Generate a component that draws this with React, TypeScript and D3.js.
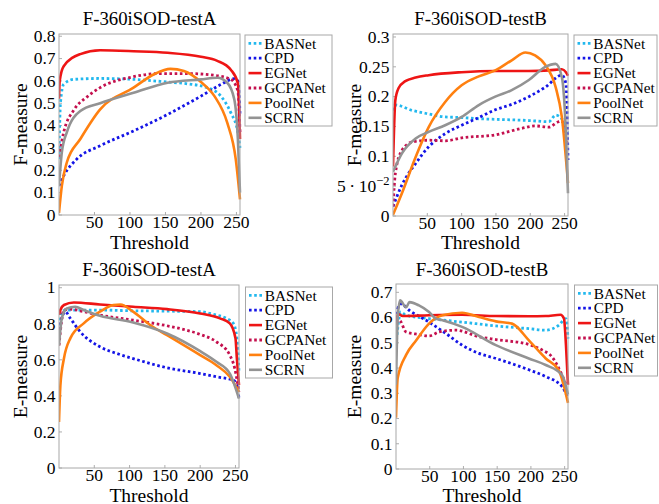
import React from "react";
import * as d3 from "d3";

type Pt = [number, number];

const methods = ["BASNet", "CPD", "EGNet", "GCPANet", "PoolNet", "SCRN"];
const colors = ["#22B8EE", "#1414E6", "#EE1515", "#C4104E", "#FF8010", "#939393"];
const dotted = [true, true, false, true, false, false];
const xTicks = [50, 100, 150, 200, 250];

// Top-left: F-measure testA
const fA_BASNet: Pt[] = [[0,0.25],[2,0.5],[6.6,0.585],[21,0.607],[58,0.611],[105,0.607],[153,0.595],[181,0.587],[209,0.57],[228,0.532],[242,0.458],[252,0.37],[255,0.3]];
const fA_CPD: Pt[] = [[0,0.13],[6.6,0.175],[25,0.25],[58,0.31],[105,0.376],[153,0.45],[200,0.532],[228,0.584],[247,0.61],[252,0.6],[255,0.45]];
const fA_EGNet: Pt[] = [[0,0.52],[1,0.6],[6.6,0.666],[30,0.72],[58,0.737],[105,0.733],[153,0.726],[200,0.708],[223,0.69],[242,0.65],[252,0.59],[255,0.34]];
const fA_GCPANet: Pt[] = [[0,0.26],[6.6,0.37],[21,0.47],[40,0.53],[58,0.57],[105,0.619],[143,0.633],[181,0.633],[219,0.625],[242,0.607],[252,0.555],[255,0.37]];
const fA_PoolNet: Pt[] = [[0,0.01],[4,0.13],[11,0.235],[30,0.34],[58,0.473],[105,0.57],[134,0.63],[157,0.654],[176,0.644],[200,0.595],[219,0.532],[237,0.413],[249,0.25],[255,0.07]];
const fA_SCRN: Pt[] = [[0,0.13],[4,0.28],[11,0.37],[30,0.465],[58,0.5],[105,0.547],[153,0.592],[200,0.607],[223,0.614],[237,0.592],[247,0.517],[252,0.34],[255,0.1]];

// Top-right: F-measure testB
const fB_BASNet: Pt[] = [[0,0.177],[3.4,0.186],[28,0.177],[52,0.171],[76,0.166],[100,0.165],[125,0.163],[149,0.162],[198,0.16],[227,0.158],[237,0.169],[246,0.163],[252,0.144],[255,0.14]];
const fB_CPD: Pt[] = [[0,0.016],[13,0.052],[33,0.088],[52,0.116],[76,0.138],[100,0.152],[125,0.165],[149,0.178],[175,0.188],[198,0.2],[222,0.216],[246,0.236],[252,0.222],[255,0.094]];
const fB_EGNet: Pt[] = [[0,0.083],[3.4,0.194],[8,0.214],[18,0.226],[33,0.232],[52,0.236],[100,0.241],[149,0.243],[198,0.243],[227,0.244],[246,0.246],[252,0.241],[255,0.235]];
const fB_GCPANet: Pt[] = [[0,0.016],[3.4,0.071],[13,0.11],[28,0.124],[52,0.127],[76,0.126],[100,0.131],[149,0.136],[188,0.147],[207,0.151],[227,0.149],[241,0.158],[246,0.16],[252,0.127],[255,0.12]];
const fB_PoolNet: Pt[] = [[0,0.002],[13,0.038],[33,0.099],[52,0.149],[76,0.191],[100,0.219],[125,0.234],[149,0.244],[173,0.261],[193,0.274],[207,0.269],[222,0.253],[237,0.216],[246,0.166],[255,0.055]];
const fB_SCRN: Pt[] = [[0,0.074],[13,0.105],[33,0.13],[52,0.141],[76,0.152],[100,0.166],[125,0.186],[149,0.2],[173,0.211],[198,0.228],[222,0.25],[237,0.255],[246,0.233],[252,0.138],[255,0.038]];

// Bottom-left: E-measure testA
const eA_BASNet: Pt[] = [[0,0.79],[4,0.867],[11,0.876],[58,0.876],[105,0.872],[153,0.87],[200,0.867],[219,0.852],[237,0.83],[247,0.802],[252,0.72],[255,0.533]];
const eA_CPD: Pt[] = [[0,0.737],[4,0.83],[9,0.867],[16,0.83],[30,0.756],[58,0.672],[82,0.635],[105,0.607],[153,0.556],[200,0.524],[223,0.506],[247,0.487],[252,0.459],[255,0.385]];
const eA_EGNet: Pt[] = [[0,0.85],[2,0.876],[7,0.904],[21,0.918],[58,0.907],[105,0.894],[153,0.881],[200,0.857],[228,0.83],[242,0.802],[250,0.72],[252,0.607],[255,0.46]];
const eA_GCPANet: Pt[] = [[0,0.68],[7,0.876],[16,0.881],[35,0.867],[58,0.848],[105,0.82],[153,0.789],[176,0.769],[200,0.741],[223,0.7],[242,0.626],[249,0.552],[255,0.422]];
const eA_PoolNet: Pt[] = [[0,0.255],[2,0.46],[7,0.607],[16,0.719],[35,0.802],[58,0.867],[77,0.904],[87,0.907],[105,0.867],[129,0.793],[153,0.737],[200,0.626],[223,0.57],[242,0.506],[255,0.422]];
const eA_SCRN: Pt[] = [[0,0.68],[4,0.83],[11,0.885],[23,0.894],[35,0.876],[58,0.844],[105,0.807],[153,0.746],[200,0.648],[223,0.589],[242,0.524],[255,0.385]];

// Bottom-right: E-measure testB
const eB_BASNet: Pt[] = [[0,0.49],[2.5,0.556],[7,0.622],[15,0.609],[49,0.596],[98,0.582],[148,0.567],[197,0.556],[222,0.55],[241,0.569],[252,0.596],[255,0.517]];
const eB_CPD: Pt[] = [[0,0.53],[2.5,0.635],[7,0.654],[20,0.628],[49,0.582],[74,0.537],[98,0.491],[123,0.458],[148,0.438],[197,0.393],[222,0.366],[246,0.327],[255,0.281]];
const eB_EGNet: Pt[] = [[0,0.57],[2.5,0.615],[10,0.606],[49,0.609],[98,0.611],[148,0.606],[197,0.605],[222,0.606],[244,0.611],[249,0.596],[252,0.491],[255,0.334]];
const eB_GCPANet: Pt[] = [[0,0.58],[5,0.589],[15,0.543],[34,0.533],[49,0.527],[64,0.543],[89,0.55],[123,0.524],[148,0.513],[197,0.493],[217,0.471],[231,0.445],[246,0.373],[252,0.334]];
const eB_PoolNet: Pt[] = [[0,0.203],[2.5,0.36],[15,0.452],[30,0.51],[49,0.576],[69,0.609],[98,0.619],[123,0.602],[148,0.585],[172,0.576],[197,0.51],[222,0.438],[241,0.393],[255,0.262]];
const eB_SCRN: Pt[] = [[0,0.334],[2.5,0.596],[6,0.668],[15,0.641],[20,0.661],[34,0.648],[49,0.622],[59,0.596],[69,0.589],[98,0.563],[148,0.491],[197,0.438],[222,0.412],[246,0.373],[255,0.295]];

const yTicksFA = [0, 0.1, 0.2, 0.3, 0.4, 0.5, 0.6, 0.7, 0.8];
const yTicksFB = [0, 0.05, 0.1, 0.15, 0.2, 0.25, 0.3];
const yTicksEA = [0, 0.2, 0.4, 0.6, 0.8, 1];
const yTicksEB = [0, 0.1, 0.2, 0.3, 0.4, 0.5, 0.6, 0.7];

const FONT = "'Liberation Serif', 'Times New Roman', serif";

interface PanelProps {
  title: string;
  ylabel: string;
  series: Pt[][];
  yMax: number;
  yTicks: number[];
  box: { l: number; t: number; r: number; b: number };
  titleY: number;
  xlabelY: number;
  ylabelX: number;
  legend: { x: number; y: number; w: number };
}

function tickLabel(v: number) {
  if (v === 0.05) {
    return (
      <>
        5{"\u2009·\u2009"}10<tspan dy="-6.5" fontSize="12.5">−2</tspan>
      </>
    );
  }
  return String(+v.toFixed(2));
}

function Panel(p: PanelProps) {
  const { l, t, r, b } = p.box;
  const x = d3.scaleLinear().domain([0, 255]).range([l, r]);
  const y = d3.scaleLinear().domain([0, p.yMax]).range([b, t]);
  const line = d3
    .line<Pt>()
    .x((d) => x(d[0]))
    .y((d) => y(d[1]))
    .curve(d3.curveMonotoneX);
  const cx = (l + r) / 2;
  const cy = (t + b) / 2;
  const clipId = `clip-${l}-${t}`;
  return (
    <g fontFamily={FONT} fill="#000">
      <defs>
        <clipPath id={clipId}>
          <rect x={l} y={t - 3} width={r - l + 2} height={b - t + 3} />
        </clipPath>
      </defs>
      <text x={cx} y={p.titleY} textAnchor="middle" fontSize="18.8">
        {p.title}
      </text>
      {xTicks.map((v) => (
        <g key={"x" + v}>
          <line x1={x(v)} x2={x(v)} y1={b} y2={b - 3} stroke="#999" strokeWidth={0.8} />
          <text x={x(v)} y={b + 13.3} textAnchor="middle" fontSize="17.5">
            {v}
          </text>
        </g>
      ))}
      {p.yTicks.map((v) => (
        <g key={"y" + v}>
          <line x1={l} x2={l + 3} y1={y(v)} y2={y(v)} stroke="#999" strokeWidth={0.8} />
          <text x={l - 3.5} y={y(v)} dy="0.33em" textAnchor="end" fontSize="17.5">
            {tickLabel(v)}
          </text>
        </g>
      ))}
      <text x={cx} y={p.xlabelY} textAnchor="middle" fontSize="19.5">
        Threshold
      </text>
      <text
        transform={`translate(${p.ylabelX},${cy}) rotate(-90)`}
        textAnchor="middle"
        fontSize="19.5"
      >
        {p.ylabel}
      </text>
      <g clipPath={`url(#${clipId})`}>
        {p.series.map((s, i) => (
          <path
            key={methods[i]}
            d={line(s) || ""}
            fill="none"
            stroke={colors[i]}
            strokeWidth={dotted[i] ? 2.8 : 2.6}
            strokeDasharray={dotted[i] ? "2.6,2.6" : undefined}
            strokeLinejoin="round"
          />
        ))}
      </g>
      <rect x={l} y={t} width={r - l} height={b - t} fill="none" stroke="#a8a8a8" strokeWidth={1} />
      <g>
        <rect
          x={p.legend.x}
          y={p.legend.y}
          width={p.legend.w}
          height={91}
          fill="#fff"
          stroke="#a8a8a8"
          strokeWidth={1}
        />
        {methods.map((m, i) => {
          const ry = p.legend.y + 8.3 + i * 14.9;
          return (
            <g key={m}>
              <line
                x1={p.legend.x + 3.5}
                x2={p.legend.x + 16.5}
                y1={ry}
                y2={ry}
                stroke={colors[i]}
                strokeWidth={dotted[i] ? 2.8 : 2.6}
                strokeDasharray={dotted[i] ? "2.6,2.6" : undefined}
              />
              <text x={p.legend.x + 19.3} y={ry} dy="0.34em" fontSize="15.3">
                {m}
              </text>
            </g>
          );
        })}
      </g>
    </g>
  );
}

export default function App() {
  return (
    <svg
      width={659}
      height={504}
      style={{ position: "absolute", left: 0, top: 0, background: "#fff" }}
    >
      <rect width={659} height={504} fill="#fff" />
      <Panel
        title="F-360iSOD-testA"
        ylabel="F-measure"
        series={[fA_BASNet, fA_CPD, fA_EGNet, fA_GCPANet, fA_PoolNet, fA_SCRN]}
        yMax={0.81}
        yTicks={yTicksFA}
        box={{ l: 59, t: 34, r: 240, b: 215 }}
        titleY={24.5}
        xlabelY={249}
        ylabelX={26.5}
        legend={{ x: 245, y: 35, w: 87 }}
      />
      <Panel
        title="F-360iSOD-testB"
        ylabel="F-measure"
        series={[fB_BASNet, fB_CPD, fB_EGNet, fB_GCPANet, fB_PoolNet, fB_SCRN]}
        yMax={0.305}
        yTicks={yTicksFB}
        box={{ l: 393, t: 34, r: 568, b: 216 }}
        titleY={24.5}
        xlabelY={249}
        ylabelX={360.5}
        legend={{ x: 574, y: 35, w: 83 }}
      />
      <Panel
        title="F-360iSOD-testA"
        ylabel="E-measure"
        series={[eA_BASNet, eA_CPD, eA_EGNet, eA_GCPANet, eA_PoolNet, eA_SCRN]}
        yMax={1.015}
        yTicks={yTicksEA}
        box={{ l: 59, t: 285, r: 239, b: 468 }}
        titleY={276}
        xlabelY={501.5}
        ylabelX={26.5}
        legend={{ x: 245.5, y: 287, w: 87 }}
      />
      <Panel
        title="F-360iSOD-testB"
        ylabel="E-measure"
        series={[eB_BASNet, eB_CPD, eB_EGNet, eB_GCPANet, eB_PoolNet, eB_SCRN]}
        yMax={0.733}
        yTicks={yTicksEB}
        box={{ l: 396, t: 284, r: 568, b: 469 }}
        titleY={276}
        xlabelY={501.5}
        ylabelX={360.5}
        legend={{ x: 574.5, y: 285, w: 83 }}
      />
    </svg>
  );
}
